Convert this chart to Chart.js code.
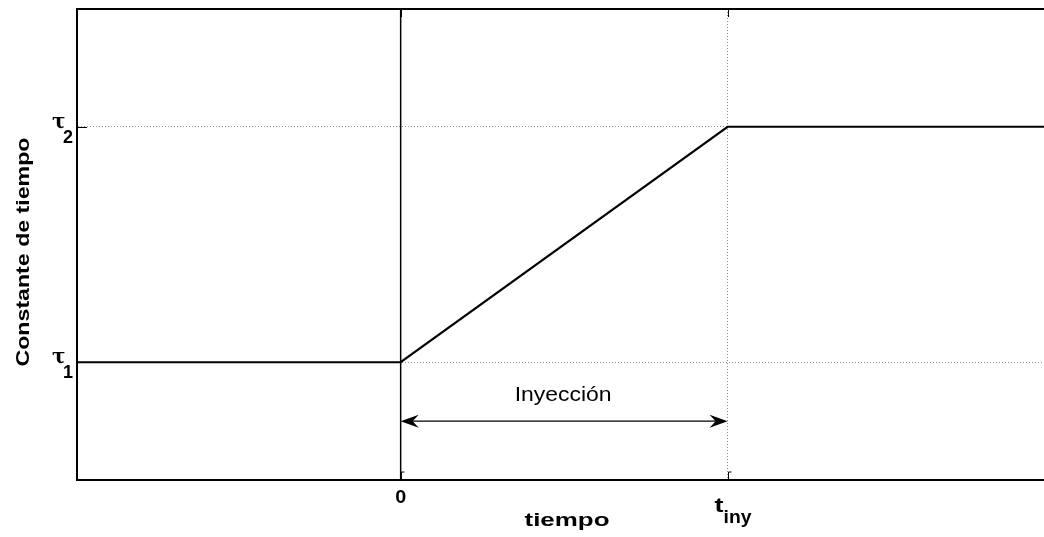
<!DOCTYPE html>
<html>
<head>
<meta charset="utf-8">
<script src="https://cdn.jsdelivr.net/npm/chart.js@4"></script>
<style>
    html, body { margin: 0; padding: 0; background: #fff; overflow: hidden; }
    #wrap { width: 1050px; height: 537px; }
</style>
</head>
<body>
<div id="wrap"><canvas id="tauChart"></canvas></div>
<script>
// Chart data
const tiempo = [-0.99, 0, 1, 1.98];
const constante = [1, 1, 2, 2];
const xTickValues = [0, 1];
const xTickLabels = [['0', ''], ['t', 'iny']];
const yTickValues = [1, 2];
const yTickLabels = [['\u03c4', '1'], ['\u03c4', '2']];
const inyeccion = { desde: 0, hasta: 1, nivel: 0.75, texto: 'Inyección', textoNivel: 0.86 };

const FONT = '"Liberation Sans", Arial, sans-serif';

// text stretched to a given width (reference font is wider)
function fillTextW(ctx, text, x, y, width) {
    const w = ctx.measureText(text).width;
    ctx.save();
    ctx.translate(x, y);
    ctx.scale(width / w, 1);
    ctx.fillText(text, 0, 0);
    ctx.restore();
}

// Draws frame, ticks, labels, arrow
const decorPlugin = {
    id: 'decor',
    afterDraw(chart) {
        const ctx = chart.ctx;
        const area = chart.chartArea;
        const xs = chart.scales.x;
        const ys = chart.scales.y;
        ctx.save();

        // top frame line
        ctx.strokeStyle = '#000';
        ctx.lineWidth = 2;
        ctx.beginPath();
        ctx.moveTo(area.left, area.top);
        ctx.lineTo(area.right, area.top);
        ctx.stroke();

        // inward tick marks
        ctx.lineWidth = 1;
        xTickValues.forEach(v => {
            const px = Math.round(xs.getPixelForValue(v)) + 0.5;
            ctx.beginPath();
            ctx.moveTo(px, area.top); ctx.lineTo(px + 3, area.top);
            ctx.moveTo(px, area.top); ctx.lineTo(px, area.top + 8);
            ctx.moveTo(px, area.bottom); ctx.lineTo(px, area.bottom - 8);
            ctx.moveTo(px, area.bottom - 8); ctx.lineTo(px + 3, area.bottom - 8);
            ctx.stroke();
        });
        yTickValues.forEach(v => {
            const py = Math.round(ys.getPixelForValue(v)) + 0.5;
            ctx.beginPath();
            ctx.moveTo(area.left, py); ctx.lineTo(area.left + 10, py);
            ctx.stroke();
        });

        // arrow
        const ay = ys.getPixelForValue(inyeccion.nivel);
        const ax1 = xs.getPixelForValue(inyeccion.desde);
        const ax2 = xs.getPixelForValue(inyeccion.hasta);
        ctx.fillStyle = '#000';
        [[ax1, 1], [ax2, -1]].forEach(([x, d]) => {
            ctx.beginPath();
            ctx.moveTo(x, ay);
            ctx.lineTo(x + d * 18, ay - 6.5);
            ctx.lineTo(x + d * 12, ay);
            ctx.lineTo(x + d * 18, ay + 6.5);
            ctx.closePath();
            ctx.fill();
        });

        ctx.textAlign = 'center';
        ctx.textBaseline = 'middle';
        ctx.font = '20px ' + FONT;
        fillTextW(ctx, inyeccion.texto, (ax1 + ax2) / 2 - 1, ys.getPixelForValue(inyeccion.textoNivel), 97);

        // x tick labels
        xTickValues.forEach((v, i) => {
            const px = xs.getPixelForValue(v);
            const [main, sub] = xTickLabels[i];
            if (sub) {
                ctx.textAlign = 'left';
                ctx.font = 'bold 21px ' + FONT;
                fillTextW(ctx, main, px - 13, area.bottom + 26, 9);
                ctx.font = 'bold 18px ' + FONT;
                fillTextW(ctx, sub, px - 4, area.bottom + 38, 28);
            } else {
                ctx.textAlign = 'center';
                ctx.font = 'bold 18px ' + FONT;
                fillTextW(ctx, main, px, area.bottom + 18, 11);
            }
        });

        // y tick labels
        yTickValues.forEach((v, i) => {
            const py = ys.getPixelForValue(v);
            const [main, sub] = yTickLabels[i];
            ctx.textAlign = 'left';
            ctx.font = 'bold 20px "DejaVu Serif", serif';
            ctx.fillText(main, area.left - 25, py - 4);
            ctx.font = 'bold 18px ' + FONT;
            ctx.fillText(sub, area.left - 14, py + 11);
        });

        // axis titles
        ctx.textAlign = 'center';
        ctx.font = 'bold 19px ' + FONT;
        fillTextW(ctx, 'tiempo', 567, area.bottom + 41, 85);
        ctx.translate(24, 252);
        ctx.rotate(-Math.PI / 2);
        fillTextW(ctx, 'Constante de tiempo', 0, 0, 229);
        ctx.restore();
    }
};

const ctx = document.getElementById('tauChart');
new Chart(ctx, {
    type: 'line',
    data: {
        datasets: [
            {
                data: tiempo.map((t, i) => ({ x: t, y: constante[i] })),
                borderColor: '#000',
                borderWidth: 2.2,
                pointRadius: 0,
                tension: 0
            },
            {
                data: [{ x: inyeccion.desde, y: 0.5 }, { x: inyeccion.desde, y: 2.5 }],
                borderColor: '#000',
                borderWidth: 1.5,
                pointRadius: 0
            },
            {
                data: [{ x: inyeccion.desde + 0.03, y: inyeccion.nivel }, { x: inyeccion.hasta - 0.03, y: inyeccion.nivel }],
                borderColor: '#000',
                borderWidth: 1.3,
                pointRadius: 0
            }
        ]
    },
    options: {
        responsive: true,
        maintainAspectRatio: false,
        animation: false,
        layout: { padding: { left: 77, top: 9, right: 2, bottom: 57 } },
        plugins: { legend: { display: false }, tooltip: { enabled: false } },
        scales: {
            x: {
                type: 'linear',
                min: -0.99,
                max: 1.98,
                afterBuildTicks: axis => { axis.ticks = xTickValues.map(v => ({ value: v })); },
                ticks: { display: false },
                grid: { color: '#8a8a8a', lineWidth: 1, drawTicks: false },
                border: { color: '#000', width: 2, dash: [1, 2] }
            },
            y: {
                type: 'linear',
                min: 0.5,
                max: 2.5,
                afterBuildTicks: axis => { axis.ticks = yTickValues.map(v => ({ value: v })); },
                ticks: { display: false },
                grid: { color: '#8a8a8a', lineWidth: 1, drawTicks: false },
                border: { color: '#000', width: 2, dash: [1, 2] }
            }
        }
    },
    plugins: [decorPlugin]
});
</script>
</body>
</html>
